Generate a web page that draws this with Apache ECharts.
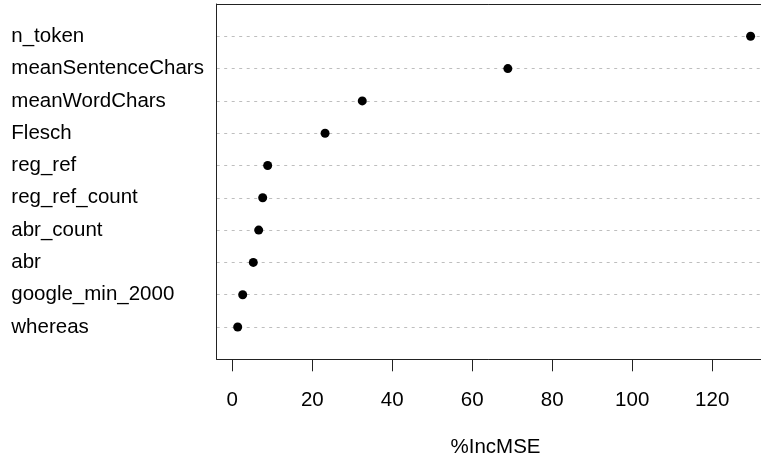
<!DOCTYPE html>
<html>
<head>
<meta charset="utf-8">
<script src="https://cdn.jsdelivr.net/npm/echarts@6/dist/echarts.min.js"></script>
<style>html,body{margin:0;padding:0;background:#fff;}#c{width:761px;height:461px;}</style>
</head>
<body>
<div id="c"></div>
<script>
// variables, top to bottom as shown
const variables = ['n_token','meanSentenceChars','meanWordChars','Flesch','reg_ref','reg_ref_count','abr_count','abr','google_min_2000','whereas'];
const incMSE = [129.6, 68.9, 32.5, 23.2, 8.85, 7.6, 6.6, 5.25, 2.6, 1.35];
const xTicks = [0, 20, 40, 60, 80, 100, 120];
const axisTitle = '%IncMSE';

const n = variables.length;
const rowPos = variables.map((v, i) => n - i);
const points = incMSE.map((v, i) => [v, rowPos[i]]);
const FONT = "'Liberation Sans', Arial, Helvetica, sans-serif";
const BOX = {color: '#222', width: 1};

const chart = echarts.init(document.getElementById('c'), null, {renderer: 'canvas'});
chart.setOption({
  animation: false,
  backgroundColor: '#ffffff',
  grid: {left: 216.7, top: 4, bottom: 101.7, right: 0, show: false},
  xAxis: [{
    type: 'value', min: -3.9, max: 132.2, position: 'bottom',
    axisLine: {show: true, onZero: false, lineStyle: BOX},
    axisTick: {show: true, length: 12, lineStyle: BOX, customValues: xTicks},
    axisLabel: {show: true, customValues: xTicks, margin: 31, color: '#000', fontSize: 20.5, fontFamily: FONT},
    splitLine: {show: false}
  }, {
    type: 'value', min: -3.9, max: 132.2, position: 'top',
    axisLine: {show: true, onZero: false, lineStyle: BOX},
    axisTick: {show: false}, axisLabel: {show: false}, splitLine: {show: false}
  }],
  yAxis: {
    type: 'value', min: 0, max: n + 1, interval: 1, position: 'left',
    axisLine: {show: true, onZero: false, lineStyle: BOX},
    axisTick: {show: false},
    axisLabel: {
      show: true, align: 'left', margin: 205.4, color: '#000', fontSize: 20.5, fontFamily: FONT,
      padding: [3, 0, 0, 0],
      formatter: function (v) { const i = n - v; return (i >= 0 && i < n) ? variables[i] : ''; }
    },
    splitLine: {show: true, lineStyle: {color: '#bebebe', width: 1, type: [3, 4.5]}}
  },
  graphic: [{
    type: 'text', left: 494.5 - 44, top: 437,
    style: {text: axisTitle, fill: '#000', font: "20.5px 'Liberation Sans', Arial, sans-serif"}
  }],
  series: [{
    type: 'scatter',
    xAxisIndex: 0,
    data: points,
    symbol: 'circle',
    symbolSize: 9,
    itemStyle: {color: '#000', opacity: 1},
    clip: false
  }]
});
</script>
</body>
</html>
